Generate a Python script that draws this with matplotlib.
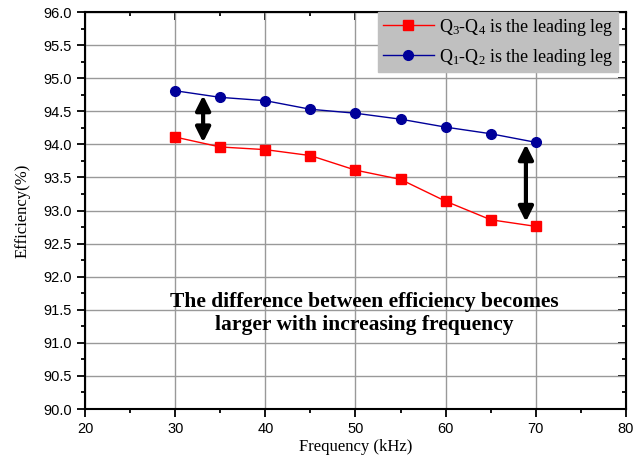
import numpy as np
import matplotlib.pyplot as plt
from matplotlib.ticker import MultipleLocator

freq = [30, 35, 40, 45, 50, 55, 60, 65, 70]
eff_q34 = [94.11, 93.96, 93.92, 93.83, 93.61, 93.47, 93.14, 92.86, 92.76]
eff_q12 = [94.81, 94.71, 94.66, 94.53, 94.47, 94.38, 94.26, 94.16, 94.03]

label_q34 = "Q$_3$-Q$_4$ is the leading leg"
label_q12 = "Q$_1$-Q$_2$ is the leading leg"
note = "The difference between efficiency becomes\nlarger with increasing frequency"

plt.rcParams["mathtext.fontset"] = "custom"
plt.rcParams["mathtext.rm"] = "Liberation Serif"
plt.rcParams["mathtext.it"] = "Liberation Serif"

fig = plt.figure(figsize=(6.43, 4.65), dpi=100)
ax = fig.add_axes([85 / 643, 56 / 465, 541 / 643, 397 / 465])

ax.plot(freq, eff_q34, color="#ff0000", lw=1, marker="s", ms=6.5, label=label_q34)
ax.plot(freq, eff_q12, color="#000099", lw=1, marker="o", ms=7, label=label_q12)

ax.set_xlim(20, 80)
ax.set_ylim(90, 96)
ax.xaxis.set_major_locator(MultipleLocator(10))
ax.xaxis.set_minor_locator(MultipleLocator(5))
ax.yaxis.set_major_locator(MultipleLocator(0.5))
ax.yaxis.set_minor_locator(MultipleLocator(0.25))
ax.yaxis.set_major_formatter(plt.FormatStrFormatter("%.1f"))
ax.grid(True, which="major", color="#999999", lw=1)
ax.set_axisbelow(True)

for s in ax.spines.values():
    s.set_linewidth(1.5)
ax.tick_params(which="both", direction="out", width=1.3,
               labelsize=10.5, labelfontfamily="Liberation Sans")
ax.tick_params(which="major", length=6)
ax.tick_params(which="minor", length=3)

# inward ticks on top and right
axt = ax.secondary_xaxis("top")
axt.xaxis.set_major_locator(MultipleLocator(10))
axt.xaxis.set_minor_locator(MultipleLocator(5))
axt.tick_params(which="both", direction="in", width=1.3, labeltop=False)
axt.tick_params(which="major", length=6)
axt.tick_params(which="minor", length=3)
axr = ax.secondary_yaxis("right")
axr.yaxis.set_major_locator(MultipleLocator(0.5))
axr.yaxis.set_minor_locator(MultipleLocator(0.25))
axr.tick_params(which="both", direction="in", width=1.3, labelright=False)
axr.tick_params(which="major", length=6)
axr.tick_params(which="minor", length=3)

ax.set_xlabel("Frequency (kHz)", family="Liberation Serif", fontsize=12, labelpad=2)
ax.set_ylabel("Efficiency(%)", family="Liberation Serif", fontsize=12, labelpad=9)

arrow = dict(arrowstyle="<|-|>", color="black", lw=3, mutation_scale=22,
             shrinkA=0, shrinkB=0)
ax.annotate("", xy=(33.1, 94.03), xytext=(33.1, 94.74), arrowprops=arrow)
ax.annotate("", xy=(68.9, 92.83), xytext=(68.9, 94.0), arrowprops=arrow)

ax.text(51.0, 91.45, note, ha="center", va="center", family="Liberation Serif",
        fontweight="bold", fontsize=15.5, linespacing=1.2)

leg = ax.legend(loc="upper right", bbox_to_anchor=(0.985, 1.0),
                prop={"family": "Liberation Serif", "size": 13},
                facecolor="#c0c0c0", edgecolor="#c0c0c0", framealpha=1, fancybox=False,
                borderpad=0.25, handlelength=2.8, handletextpad=0.3, labelspacing=0.5,
                borderaxespad=0.0)

fig.savefig("out.png", dpi=100)
